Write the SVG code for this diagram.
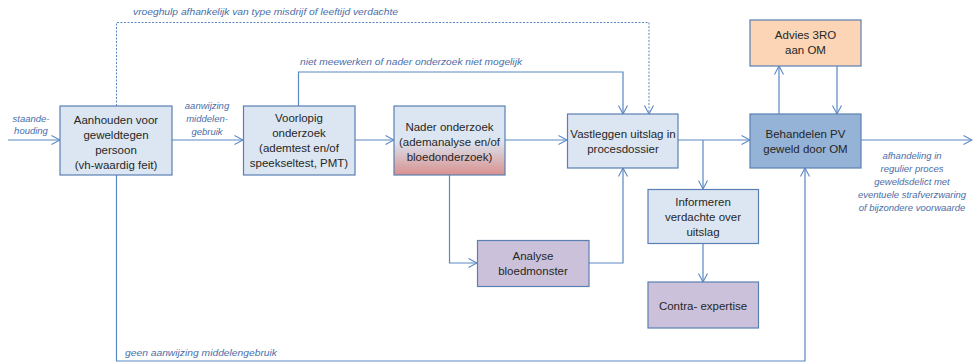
<svg xmlns="http://www.w3.org/2000/svg" width="974" height="363" viewBox="0 0 974 363">
  <defs>
    <marker id="arr" viewBox="0 0 10 10" refX="9.5" refY="5" markerWidth="10" markerHeight="10" markerUnits="userSpaceOnUse" orient="auto">
      <path d="M1,0.5 L9.5,5 L1,9.5" fill="none" stroke="#5b87c5" stroke-width="1.1"/>
    </marker>
    <linearGradient id="redFade" x1="0" y1="0" x2="0" y2="1">
      <stop offset="0" stop-color="#dce6f2"/>
      <stop offset="0.5" stop-color="#dce6f2"/>
      <stop offset="1" stop-color="#d8908e"/>
    </linearGradient>
    <style>
      .box { stroke: #5a7fb3; stroke-width: 1.2; }
      .light { fill: #dce6f2; }
      .dark { fill: #95b3d7; }
      .peach { fill: #fbd5b5; }
      .purple { fill: #ccc1da; }
      .t { font-family: "Liberation Sans", Arial, sans-serif; font-size: 11.5px; fill: #262626; text-anchor: middle; }
      .lbl { font-family: "Liberation Sans", Arial, sans-serif; font-size: 9.5px; font-style: italic; fill: #4a6ea8; }
      .c { text-anchor: middle; }
      .ln { fill: none; stroke: #5b87c5; stroke-width: 1.2; }
      .dot { fill: none; stroke: #5b87c5; stroke-width: 1; stroke-dasharray: 2 1.5; }
    </style>
  </defs>

  <!-- connectors -->
  <g id="connectors">
    <path class="ln" d="M8,140 H60" marker-end="url(#arr)"/>
    <path class="ln" d="M172,140 H243" marker-end="url(#arr)"/>
    <path class="ln" d="M355,140 H394" marker-end="url(#arr)"/>
    <path class="ln" d="M505,140 H567" marker-end="url(#arr)"/>
    <path class="ln" d="M678,140 H750" marker-end="url(#arr)"/>
    <path class="ln" d="M861,140 H972" marker-end="url(#arr)"/>
    <path class="dot" d="M116.5,106 V22.5 H649 V114" marker-end="url(#arr)"/>
    <path class="ln" d="M298.5,106 V72 H623 V114" marker-end="url(#arr)"/>
    <path class="ln" d="M703,140 V189" marker-end="url(#arr)"/>
    <path class="ln" d="M703,243 V282" marker-end="url(#arr)"/>
    <path class="ln" d="M779,114 V66" marker-end="url(#arr)"/>
    <path class="ln" d="M837,66 V114" marker-end="url(#arr)"/>
    <path class="ln" d="M449.5,175 V263 H477" marker-end="url(#arr)"/>
    <path class="ln" d="M589,263 H623 V168" marker-end="url(#arr)"/>
    <path class="ln" d="M116.5,175 V361 H805 V168" stroke="#7ea3d4" stroke-width="1.5" marker-end="url(#arr)"/>
  </g>

  <!-- connector labels -->
  <g id="labels">
    <text class="lbl c" x="31" y="122">staande-</text>
    <text class="lbl c" x="31" y="134">houding</text>
    <text class="lbl c" x="207" y="109">aanwijzing</text>
    <text class="lbl c" x="207" y="122">middelen-</text>
    <text class="lbl c" x="207" y="135">gebruik</text>
    <text class="lbl" x="133" y="15" textLength="265" lengthAdjust="spacingAndGlyphs">vroeghulp afhankelijk van type misdrijf of leeftijd verdachte</text>
    <text class="lbl" x="300" y="65" textLength="222" lengthAdjust="spacingAndGlyphs">niet meewerken of nader onderzoek niet mogelijk</text>
    <text class="lbl" x="125" y="356" textLength="152" lengthAdjust="spacingAndGlyphs">geen aanwijzing middelengebruik</text>
    <text class="lbl c" x="912" y="159">afhandeling in</text>
    <text class="lbl c" x="912" y="172">regulier proces</text>
    <text class="lbl c" x="912" y="185">geweldsdelict met</text>
    <text class="lbl c" x="912" y="198">eventuele strafverzwaring</text>
    <text class="lbl c" x="912" y="211">of bijzondere voorwaarde</text>
  </g>

  <g id="aanhouden">
    <rect class="box light" x="60" y="106" width="112" height="69"/>
    <text class="t" x="116" y="124">Aanhouden voor</text>
    <text class="t" x="116" y="139">geweldtegen</text>
    <text class="t" x="116" y="154">persoon</text>
    <text class="t" x="116" y="169">(vh-waardig feit)</text>
  </g>

  <g id="voorlopig">
    <rect class="box light" x="243.5" y="106" width="111.5" height="69"/>
    <text class="t" x="299" y="122">Voorlopig</text>
    <text class="t" x="299" y="137">onderzoek</text>
    <text class="t" x="299" y="152">(ademtest en/of</text>
    <text class="t" x="299" y="167">speekseltest, PMT)</text>
  </g>

  <g id="nader">
    <rect class="box" x="394" y="106" width="111" height="69" fill="url(#redFade)"/>
    <text class="t" x="449.5" y="131">Nader onderzoek</text>
    <text class="t" x="449.5" y="146">(ademanalyse en/of</text>
    <text class="t" x="449.5" y="161">bloedonderzoek)</text>
  </g>

  <g id="vastleggen">
    <rect class="box light" x="567.5" y="114" width="110.5" height="54"/>
    <text class="t" x="623" y="137.5">Vastleggen uitslag in</text>
    <text class="t" x="623" y="152.5">procesdossier</text>
  </g>

  <g id="behandelen">
    <rect class="box dark" x="750" y="114" width="111" height="54"/>
    <text class="t" x="805.5" y="137.5">Behandelen PV</text>
    <text class="t" x="805.5" y="152.5">geweld door OM</text>
  </g>

  <g id="advies">
    <rect class="box peach" x="750" y="20" width="111" height="46"/>
    <text class="t" x="805.5" y="39">Advies 3RO</text>
    <text class="t" x="805.5" y="54">aan OM</text>
  </g>

  <g id="informeren">
    <rect class="box light" x="648" y="189.5" width="110.5" height="54"/>
    <text class="t" x="703" y="206">Informeren</text>
    <text class="t" x="703" y="221">verdachte over</text>
    <text class="t" x="703" y="236">uitslag</text>
  </g>

  <g id="analyse">
    <rect class="box purple" x="477.5" y="240.5" width="111.5" height="46"/>
    <text class="t" x="533" y="260">Analyse</text>
    <text class="t" x="533" y="275">bloedmonster</text>
  </g>

  <g id="contra">
    <rect class="box purple" x="648" y="282" width="110.5" height="46"/>
    <text class="t" x="703" y="309.5">Contra- expertise</text>
  </g>
</svg>
